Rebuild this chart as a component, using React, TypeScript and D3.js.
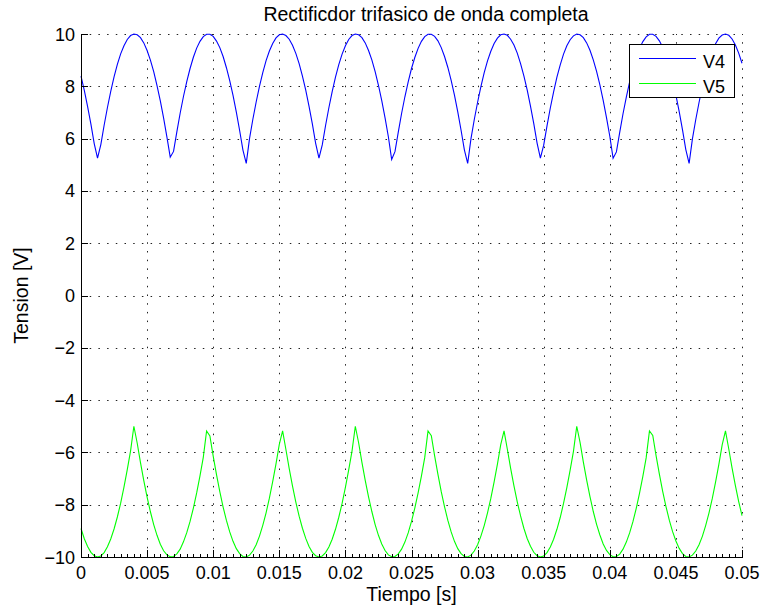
import React from 'react'
import * as d3 from 'd3'

// sampled signals, one value every 0.25 ms from t = 0 to t = 0.05 s
const sampleStep = 0.00025

const v4 = [
  8.39, 7.84, 7.22, 6.55, 5.81, 5.25, 5.77, 6.51, 7.19, 7.81,
  8.36, 8.84, 9.24, 9.55, 9.79, 9.94, 10.0, 9.97, 9.86, 9.66,
  9.37, 9.0, 8.56, 8.03, 7.44, 6.78, 6.06, 5.29, 5.51, 6.26,
  6.97, 7.61, 8.18, 8.68, 9.11, 9.46, 9.72, 9.9, 9.99, 9.99,
  9.91, 9.73, 9.48, 9.14, 8.71, 8.22, 7.65, 7.01, 6.31, 5.56,
  5.05, 6.01, 6.74, 7.4, 8.0, 8.52, 8.98, 9.35, 9.64, 9.85,
  9.97, 10.0, 9.94, 9.8, 9.57, 9.26, 8.87, 8.39, 7.85, 7.23,
  6.56, 5.82, 5.25, 5.76, 6.5, 7.18, 7.8, 8.35, 8.83, 9.23,
  9.55, 9.79, 9.94, 10.0, 9.97, 9.86, 9.66, 9.37, 9.01, 8.56,
  8.04, 7.45, 6.79, 6.07, 5.2, 5.5, 6.25, 6.96, 7.6, 8.17,
  8.68, 9.1, 9.45, 9.72, 9.9, 9.99, 9.99, 9.91, 9.74, 9.48,
  9.14, 8.72, 8.23, 7.66, 7.02, 6.32, 5.57, 5.05, 6.0, 6.73,
  7.39, 7.99, 8.52, 8.97, 9.34, 9.64, 9.84, 9.97, 10.0, 9.95,
  9.8, 9.58, 9.27, 8.87, 8.4, 7.86, 7.24, 6.57, 5.83, 5.25,
  5.75, 6.49, 7.17, 7.79, 8.35, 8.82, 9.23, 9.55, 9.78, 9.93,
  10.0, 9.97, 9.86, 9.66, 9.38, 9.01, 8.57, 8.05, 7.46, 6.8,
  6.09, 5.25, 5.49, 6.24, 6.95, 7.59, 8.17, 8.67, 9.1, 9.45,
  9.71, 9.89, 9.99, 9.99, 9.91, 9.74, 9.49, 9.15, 8.73, 8.23,
  7.66, 7.03, 6.33, 5.58, 5.05, 5.99, 6.72, 7.38, 7.98, 8.51,
  8.96, 9.34, 9.63, 9.84, 9.96, 10.0, 9.95, 9.81, 9.58, 9.27,
  8.88
]

const v5 = [
  -8.91, -9.3, -9.6, -9.82, -9.95, -10.0, -9.96, -9.83, -9.61, -9.31,
  -8.93, -8.47, -7.94, -7.33, -6.66, -5.94, -5.0, -5.64, -6.39, -7.08,
  -7.71, -8.27, -8.76, -9.17, -9.51, -9.76, -9.92, -9.99, -9.98, -9.88,
  -9.7, -9.42, -9.07, -8.64, -8.13, -7.55, -6.9, -6.19, -5.18, -5.37,
  -6.14, -6.85, -7.5, -8.09, -8.6, -9.04, -9.4, -9.68, -9.87, -9.98,
  -10.0, -9.93, -9.77, -9.53, -9.2, -8.79, -8.31, -7.75, -7.12, -6.44,
  -5.69, -5.18, -5.89, -6.62, -7.29, -7.9, -8.44, -8.9, -9.29, -9.6,
  -9.82, -9.95, -10.0, -9.96, -9.83, -9.62, -9.32, -8.94, -8.48, -7.95,
  -7.34, -6.67, -5.95, -5.0, -5.63, -6.38, -7.07, -7.7, -8.26, -8.76,
  -9.17, -9.5, -9.75, -9.92, -9.99, -9.98, -9.88, -9.7, -9.43, -9.08,
  -8.64, -8.13, -7.55, -6.91, -6.2, -5.18, -5.36, -6.13, -6.84, -7.5,
  -8.08, -8.6, -9.04, -9.4, -9.68, -9.87, -9.98, -10.0, -9.93, -9.77,
  -9.53, -9.2, -8.8, -8.31, -7.76, -7.13, -6.45, -5.7, -5.18, -5.88,
  -6.61, -7.28, -7.89, -8.43, -8.9, -9.29, -9.59, -9.82, -9.95, -10.0,
  -9.96, -9.83, -9.62, -9.32, -8.94, -8.49, -7.95, -7.35, -6.68, -5.96,
  -5.0, -5.62, -6.37, -7.06, -7.69, -8.26, -8.75, -9.16, -9.5, -9.75,
  -9.91, -9.99, -9.98, -9.89, -9.7, -9.43, -9.08, -8.65, -8.14, -7.56,
  -6.92, -6.21, -5.18, -5.35, -6.12, -6.83, -7.49, -8.07, -8.59, -9.03,
  -9.39, -9.67, -9.87, -9.98, -10.0, -9.93, -9.77, -9.53, -9.21, -8.8,
  -8.32, -7.77, -7.14, -6.46, -5.71, -5.18, -5.87, -6.6, -7.27, -7.88,
  -8.42
]

const xTicks = [0, 0.005, 0.01, 0.015, 0.02, 0.025, 0.03, 0.035, 0.04, 0.045, 0.05]
const xTickLabels = ['0', '0.005', '0.01', '0.015', '0.02', '0.025', '0.03', '0.035', '0.04', '0.045', '0.05']
const yTicks = [-10, -8, -6, -4, -2, 0, 2, 4, 6, 8, 10]
const seriesNames = ['V4', 'V5']
const seriesColors = ['#0000ff', '#00ff00']

const W = 765
const H = 614
const left = 81
const right = 742
const top = 34
const bottom = 557
const font = '"Liberation Sans", Arial, Helvetica, sans-serif'

const App = () => {
  const x = d3.scaleLinear().domain([0, 0.05]).range([left, right])
  const y = d3.scaleLinear().domain([-10, 10]).range([bottom, top])

  const line = d3
    .line<number>()
    .x((_, i) => x(i * sampleStep))
    .y((d) => y(d))

  const series = [v4, v5]
  const minorTicks = d3.range(0, 101).map((i) => i * 0.0005)

  return (
    <div style={{ position: 'absolute', left: 0, top: 0 }}>
      <svg width={W} height={H} style={{ display: 'block', background: '#fff' }} fontFamily={font}>
        {/* grid */}
        <g stroke="#222" strokeWidth={1} strokeDasharray="1.5 7.2" fill="none">
          {xTicks.map((t) => (
            <line key={'gx' + t} x1={Math.round(x(t)) + 0.5} x2={Math.round(x(t)) + 0.5} y1={bottom} y2={top} />
          ))}
          {yTicks.map((t) => (
            <line key={'gy' + t} x1={left} x2={right} y1={Math.round(y(t)) + 0.5} y2={Math.round(y(t)) + 0.5} />
          ))}
        </g>

        {/* data */}
        {series.map((s, i) => (
          <path key={seriesNames[i]} d={line(s) || ''} fill="none" stroke={seriesColors[i]} strokeWidth={1.1} />
        ))}

        {/* axes */}
        <g stroke="#000" strokeWidth={1} fill="none">
          <line x1={left + 0.5} x2={left + 0.5} y1={top} y2={bottom + 0.5} />
          <line x1={left} x2={right + 1} y1={bottom + 0.5} y2={bottom + 0.5} />
          {minorTicks.map((t) => (
            <line key={'mx' + t} x1={Math.round(x(t)) + 0.5} x2={Math.round(x(t)) + 0.5} y1={bottom} y2={bottom - 3} />
          ))}
          {xTicks.map((t) => (
            <line key={'tx' + t} x1={Math.round(x(t)) + 0.5} x2={Math.round(x(t)) + 0.5} y1={bottom} y2={bottom - 7} />
          ))}
          {yTicks.map((t) => (
            <line key={'ty' + t} x1={left} x2={left + 7} y1={Math.round(y(t)) + 0.5} y2={Math.round(y(t)) + 0.5} />
          ))}
        </g>

        <g fontSize={18} fill="#000">
          {xTicks.map((t, i) => (
            <text key={'lx' + t} x={x(t)} y={bottom + 22} textAnchor="middle">
              {xTickLabels[i]}
            </text>
          ))}
          {yTicks.map((t) => (
            <text key={'ly' + t} x={left - 6} y={y(t) + 6.5} textAnchor="end">
              {t < 0 ? '\u2212' + -t : String(t)}
            </text>
          ))}
        </g>

        <text x={426} y={21} textAnchor="middle" fontSize={19.5}>
          Rectificdor trifasico de onda completa
        </text>
        <text x={(left + right) / 2} y={601} textAnchor="middle" fontSize={19.5}>
          Tiempo [s]
        </text>
        <text transform={`translate(28, ${(top + bottom) / 2}) rotate(-90)`} textAnchor="middle" fontSize={19.5}>
          Tension [V]
        </text>

        {/* legend */}
        <g>
          <rect x={629.5} y={44.5} width={105} height={53} fill="#fff" stroke="#000" strokeWidth={1} />
          {seriesNames.map((name, i) => (
            <g key={name}>
              <line x1={639} x2={696} y1={58.5 + i * 25} y2={58.5 + i * 25} stroke={seriesColors[i]} strokeWidth={1.1} />
              <text x={703} y={67.5 + i * 25} fontSize={18}>
                {name}
              </text>
            </g>
          ))}
        </g>
      </svg>
    </div>
  )
}

export default App
